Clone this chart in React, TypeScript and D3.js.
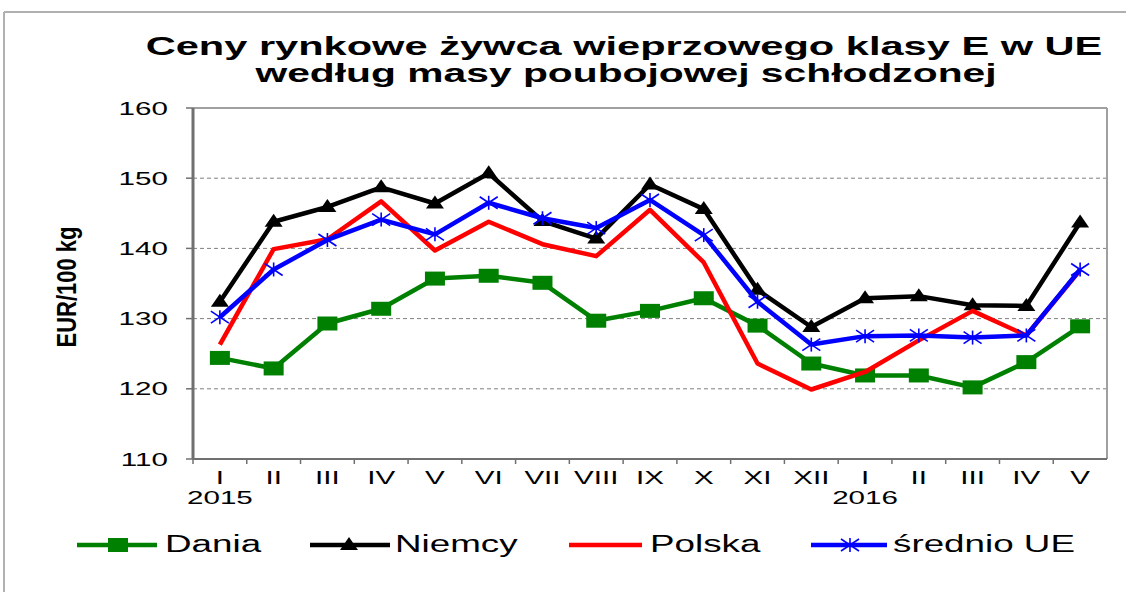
import React from 'react';
import * as d3 from 'd3';

const months = ['I', 'II', 'III', 'IV', 'V', 'VI', 'VII', 'VIII', 'IX', 'X', 'XI', 'XII', 'I', 'II', 'III', 'IV', 'V'];
const yearLabels = [{ idx: 0, text: '2015' }, { idx: 12, text: '2016' }];
const yTicks = [110, 120, 130, 140, 150, 160];

const dania = [124.4, 122.9, 129.3, 131.4, 135.7, 136.1, 135.1, 129.7, 131.1, 132.9, 129.0, 123.6, 121.9, 121.9, 120.2, 123.8, 128.9];
const niemcy = [132.4, 143.8, 145.9, 148.7, 146.4, 150.7, 143.9, 141.4, 149.1, 145.6, 134.1, 128.8, 132.9, 133.2, 131.9, 131.8, 143.7];
const polska = [126.3, 139.9, 141.3, 146.7, 139.7, 143.8, 140.6, 138.9, 145.5, 138.0, 123.6, 119.9, 122.4, 126.9, 131.1, 127.6, 136.9];
const srednio = [130.2, 137.0, 141.2, 144.1, 142.0, 146.5, 144.3, 142.9, 146.9, 141.9, 132.4, 126.3, 127.5, 127.6, 127.3, 127.6, 137.0];

const FONT = '"Liberation Sans", Arial, sans-serif';
const SX = 1.6; // the original picture is stretched horizontally

const series = [
  { name: 'Dania', values: dania, color: '#008000', marker: 'square', lx: 77, lx2: 157, mx: 118, tx: 165 },
  { name: 'Niemcy', values: niemcy, color: '#000000', marker: 'triangle', lx: 310, lx2: 390, mx: 349, tx: 395 },
  { name: 'Polska', values: polska, color: '#ff0000', marker: 'none', lx: 569, lx2: 642, mx: 605, tx: 650 },
  { name: 'średnio UE', values: srednio, color: '#0000ff', marker: 'star', lx: 811, lx2: 887, mx: 850, tx: 893 },
];

function Marker({ type, x, y, color }: { type: string; x: number; y: number; color: string }) {
  if (type === 'square') {
    return <rect x={x - 10} y={y - 7} width={20} height={14} fill={color} />;
  }
  if (type === 'triangle') {
    return <path d={`M${x},${y - 8}L${x + 9},${y + 5}L${x - 9},${y + 5}Z`} fill={color} />;
  }
  if (type === 'star') {
    return (
      <g stroke={color} strokeWidth={1.6}>
        <line x1={x - 9} y1={y - 6} x2={x + 9} y2={y + 6} />
        <line x1={x - 9} y1={y + 6} x2={x + 9} y2={y - 6} />
        <line x1={x} y1={y - 7} x2={x} y2={y + 7} />
      </g>
    );
  }
  return null;
}

function SText({ x, y, size, anchor = 'start', weight = 'normal', children }: any) {
  return (
    <text
      transform={`translate(${x},${y}) scale(${SX},1)`}
      fontFamily={FONT}
      fontSize={size}
      fontWeight={weight}
      textAnchor={anchor}
      fill="#000"
    >
      {children}
    </text>
  );
}

export default function App() {
  const width = 1126;
  const height = 597;
  const left = 193, right = 1107, top = 108, bottom = 459;

  const x = d3.scaleBand<number>()
    .domain(months.map((_, i) => i))
    .range([left, right]);
  const cx = (i: number) => (x(i) as number) + x.bandwidth() / 2;

  const y = d3.scaleLinear().domain([110, 160]).range([bottom, top]);

  const line = d3.line<number>()
    .x((_, i) => cx(i))
    .y(d => y(d));

  return (
    <svg width={width} height={height} style={{ position: 'fixed', left: 0, top: 0, background: '#fff' }}>
      <rect width={width} height={height} fill="#fff" />
      {/* outer frame */}
      <line x1={4} y1={12} x2={width} y2={12} stroke="#b0b0b0" strokeWidth={2} />
      <line x1={4} y1={12} x2={4} y2={592} stroke="#b0b0b0" strokeWidth={2} />

      {/* title */}
      <SText x={624} y={55} size={26} anchor="middle" weight="bold">Ceny rynkowe żywca wieprzowego klasy E w UE</SText>
      <SText x={626} y={82} size={25.5} anchor="middle" weight="bold">według masy poubojowej schłodzonej</SText>

      {/* gridlines */}
      {yTicks.filter(t => t > 110 && t < 160).map(t => (
        <line key={t} x1={left} x2={right} y1={y(t)} y2={y(t)} stroke="#808080" strokeWidth={1} strokeDasharray="4,3" />
      ))}

      {/* plot border */}
      <line x1={left} x2={right} y1={top} y2={top} stroke="#a0a0a0" strokeWidth={2} />
      <line x1={right} x2={right} y1={top} y2={bottom} stroke="#a0a0a0" strokeWidth={2} />

      {/* y axis */}
      <line x1={left} x2={left} y1={top} y2={bottom} stroke="#707070" strokeWidth={3} />
      {yTicks.map(t => (
        <g key={t}>
          <line x1={left - 7} x2={left} y1={y(t)} y2={y(t)} stroke="#707070" strokeWidth={1.5} />
          <SText x={168} y={y(t) + 6.5} size={18.5} anchor="end">{t}</SText>
        </g>
      ))}
      <text
        transform={`translate(76,287) scale(${SX},1) rotate(-90)`}
        fontFamily={FONT}
        fontSize={17}
        fontWeight="bold"
        textAnchor="middle"
        textLength={121}
        lengthAdjust="spacingAndGlyphs"
      >
        EUR/100 kg
      </text>

      {/* x axis */}
      <line x1={left} x2={right} y1={bottom} y2={bottom} stroke="#707070" strokeWidth={2} />
      {months.map((_, i) => (
        <line key={i} x1={x(i) as number} x2={x(i) as number} y1={bottom} y2={bottom + 5} stroke="#707070" strokeWidth={1.5} />
      ))}
      {months.map((m, i) => (
        <SText key={i} x={cx(i)} y={484} size={18.5} anchor="middle">{m}</SText>
      ))}
      {yearLabels.map(d => (
        <SText key={d.text} x={cx(d.idx)} y={504} size={18.5} anchor="middle">{d.text}</SText>
      ))}

      {/* series */}
      {series.map(s => (
        <g key={s.name}>
          <path d={line(s.values) || ''} fill="none" stroke={s.color} strokeWidth={4.5} strokeLinejoin="round" />
          {s.values.map((v, i) => (
            <Marker key={i} type={s.marker} x={cx(i)} y={y(v)} color={s.color} />
          ))}
        </g>
      ))}

      {/* legend */}
      {series.map(s => (
        <g key={s.name}>
          <line x1={s.lx} x2={s.lx2} y1={545} y2={545} stroke={s.color} strokeWidth={4.5} />
          <Marker type={s.marker} x={s.mx} y={545} color={s.color} />
          <SText x={s.tx} y={552} size={23}>{s.name}</SText>
        </g>
      ))}
    </svg>
  );
}
